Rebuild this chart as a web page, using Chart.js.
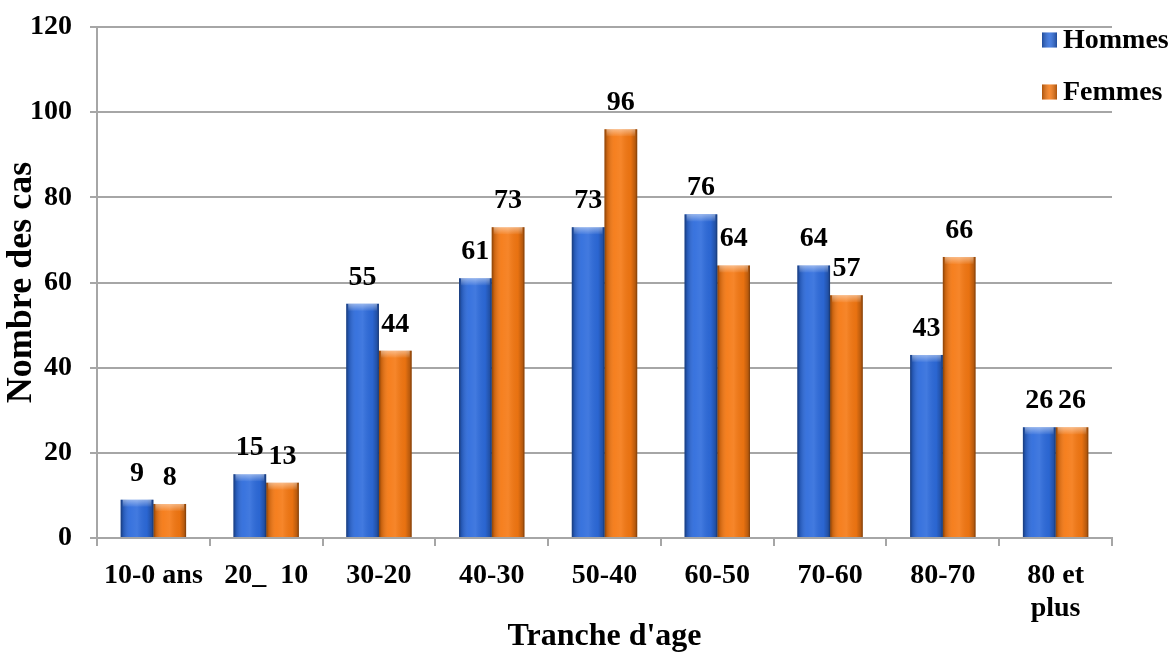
<!DOCTYPE html>
<html>
<head>
<meta charset="utf-8">
<script src="https://cdn.jsdelivr.net/npm/chart.js@4/dist/chart.umd.min.js"></script>
<style>
  html, body { margin: 0; padding: 0; background: #ffffff; }
  #wrap { width: 1175px; height: 652px; position: relative; }
</style>
</head>
<body>
<div id="wrap"><canvas id="c"></canvas></div>
<script>
// Age groups and case counts per sex
const categories = ['10-0 ans', '20_  10', '30-20', '40-30', '50-40', '60-50', '70-60', '80-70', ['80 et', 'plus']];
const hommes = [9, 15, 55, 61, 73, 76, 64, 43, 26];
const femmes = [8, 13, 44, 73, 96, 64, 57, 66, 26];
const seriesNames = ['Hommes', 'Femmes'];
const yTicks = [0, 20, 40, 60, 80, 100, 120];

const FONT = "'Liberation Serif', 'Times New Roman', serif";
const BLUE = '#2d6bdc';
const ORANGE = '#f57812';
const GRID = '#a6a6a6';

// Cylinder-like shading over each bar: darker sides, soft highlight, light top cap
const barShading = {
  id: 'barShading',
  afterDatasetsDraw(chart) {
    const ctx = chart.ctx;
    chart.data.datasets.forEach((ds, di) => {
      const meta = chart.getDatasetMeta(di);
      meta.data.forEach(el => {
        const { x, y, base, width } = el.getProps(['x', 'y', 'base', 'width'], true);
        const l = x - width / 2, r = x + width / 2;
        const h = base - y;
        ctx.save();
        const g = ctx.createLinearGradient(l, 0, r, 0);
        g.addColorStop(0, 'rgba(0,0,0,0.45)');
        g.addColorStop(0.08, 'rgba(0,0,0,0.18)');
        g.addColorStop(0.3, 'rgba(255,255,255,0.06)');
        g.addColorStop(0.5, 'rgba(255,255,255,0.10)');
        g.addColorStop(0.8, 'rgba(0,0,0,0.05)');
        g.addColorStop(0.94, 'rgba(0,0,0,0.25)');
        g.addColorStop(1, 'rgba(0,0,0,0.5)');
        ctx.fillStyle = g;
        ctx.fillRect(l, y, width, h);
        // light top cap
        const cap = Math.min(7, h);
        const cg = ctx.createLinearGradient(0, y, 0, y + cap);
        cg.addColorStop(0, 'rgba(255,255,255,0.45)');
        cg.addColorStop(1, 'rgba(255,255,255,0.05)');
        ctx.fillStyle = cg;
        ctx.fillRect(l + 2, y, width - 4, cap);
        ctx.restore();
      });
    });
  }
};

// Value labels above every bar
const valueLabels = {
  id: 'valueLabels',
  afterDatasetsDraw(chart) {
    const ctx = chart.ctx;
    ctx.save();
    ctx.font = `bold 28px ${FONT}`;
    ctx.fillStyle = '#000';
    ctx.textAlign = 'center';
    ctx.textBaseline = 'alphabetic';
    chart.data.datasets.forEach((ds, di) => {
      const meta = chart.getDatasetMeta(di);
      meta.data.forEach((el, i) => {
        ctx.fillText(String(ds.data[i]), el.x, el.y - 19);
      });
    });
    ctx.restore();
  }
};

// Legend drawn at the upper right corner
const cornerLegend = {
  id: 'cornerLegend',
  afterDraw(chart) {
    const ctx = chart.ctx;
    ctx.save();
    ctx.font = `bold 28px ${FONT}`;
    ctx.textBaseline = 'middle';
    ctx.textAlign = 'left';
    const rows = [40, 92];
    chart.data.datasets.forEach((ds, di) => {
      const cy = rows[di];
      const bx = 1042, bs = 15;
      ctx.fillStyle = ds.backgroundColor;
      ctx.fillRect(bx, cy - bs / 2, bs, bs);
      const g = ctx.createLinearGradient(bx, 0, bx + bs, 0);
      g.addColorStop(0, 'rgba(0,0,0,0.3)');
      g.addColorStop(0.5, 'rgba(255,255,255,0.15)');
      g.addColorStop(1, 'rgba(0,0,0,0.3)');
      ctx.fillStyle = g;
      ctx.fillRect(bx, cy - bs / 2, bs, bs);
      ctx.fillStyle = '#000';
      ctx.fillText(ds.label, 1063, cy + 1);
    });
    ctx.restore();
  }
};

new Chart(document.getElementById('c'), {
  type: 'bar',
  data: {
    labels: categories,
    datasets: [
      { label: seriesNames[0], data: hommes, backgroundColor: BLUE },
      { label: seriesNames[1], data: femmes, backgroundColor: ORANGE }
    ]
  },
  options: {
    responsive: true,
    maintainAspectRatio: false,
    animation: false,
    devicePixelRatio: 1,
    layout: { padding: { top: 27, right: 63, left: 0, bottom: 0 } },
    datasets: { bar: { categoryPercentage: 0.58, barPercentage: 1.0 } },
    plugins: {
      legend: { display: false },
      tooltip: { enabled: false }
    },
    scales: {
      x: {
        afterFit(scale) { scale.height = 114; scale.paddingLeft = 0; scale.paddingRight = 0; },
        grid: { offset: true, drawOnChartArea: false, drawTicks: true, tickLength: 8, color: GRID, lineWidth: 2 },
        border: { display: true, color: GRID, width: 2 },
        ticks: { color: '#000', font: { family: FONT, size: 28, weight: 'bold', lineHeight: 1.15 }, padding: 14, maxRotation: 0, autoSkip: false },
        title: { display: true, text: "Tranche d'age", color: '#000', font: { family: FONT, size: 32, weight: 'bold' }, padding: { top: 0, bottom: -4 } }
      },
      y: {
        min: 0,
        max: 120,
        afterFit(scale) { scale.width = 97; scale.paddingTop = 0; scale.paddingBottom = 0; },
        afterBuildTicks(scale) { scale.ticks = yTicks.map(v => ({ value: v })); },
        grid: { color: GRID, lineWidth: 2, tickLength: 7 },
        border: { display: true, color: GRID, width: 2 },
        ticks: { color: '#000', font: { family: FONT, size: 28, weight: 'bold' }, padding: 18 },
        title: { display: true, text: 'Nombre des cas', color: '#000', font: { family: FONT, size: 36, weight: 'bold' }, padding: { top: 0, bottom: 0 } }
      }
    }
  },
  plugins: [barShading, valueLabels, cornerLegend]
});
</script>
</body>
</html>
